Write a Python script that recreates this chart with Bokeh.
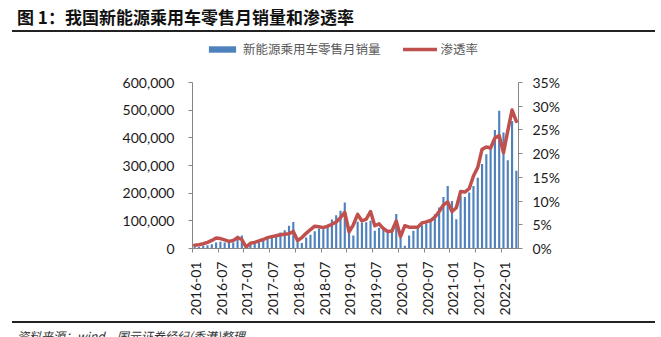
import math
import pandas as pd
from bokeh.plotting import figure
from bokeh.layouts import column
from bokeh.models import (Range1d, LinearAxis, FixedTicker, NumeralTickFormatter,
                          PrintfTickFormatter, Legend, LegendItem, Div)
from bokeh.embed import file_html
from bokeh.resources import INLINE

# ---------------- data ----------------
months = [d.strftime("%Y-%m") for d in pd.date_range("2016-01-01", "2022-04-01", freq="MS")]

sales_2016 = [6000, 5000, 10000, 12000, 15000, 22000, 24000, 22000, 24000, 22000, 46000, 47000]
sales_2017 = [4000, 13000, 20000, 23000, 28000, 35000, 40000, 46000, 58000, 66000, 82000, 96000]
sales_2018 = [28000, 20000, 40000, 50000, 62000, 72000, 70000, 80000, 105000, 120000, 136000, 166000]
sales_2019 = [80000, 47000, 97000, 92000, 95000, 100000, 64000, 75000, 72000, 62000, 70000, 125000]
sales_2020 = [40000, 10000, 47000, 64000, 76000, 84000, 90000, 103000, 124000, 148000, 186000, 226000]
sales_2021 = [172000, 106000, 190000, 186000, 202000, 226000, 256000, 305000, 341000, 365000, 428000, 498000]
sales_2022 = [419000, 319000, 461000, 281000]
sales = sales_2016 + sales_2017 + sales_2018 + sales_2019 + sales_2020 + sales_2021 + sales_2022

pen_2016 = [0.7, 0.8, 1.0, 1.3, 1.7, 2.2, 2.1, 1.8, 1.5, 1.7, 2.3, 1.9]
pen_2017 = [0.3, 1.1, 1.3, 1.6, 1.9, 2.3, 2.5, 2.7, 2.9, 3.0, 3.1, 3.6]
pen_2018 = [1.7, 2.3, 3.2, 4.0, 4.7, 4.6, 4.4, 4.7, 5.1, 5.6, 6.5, 7.6]
pen_2019 = [3.5, 5.0, 7.2, 5.8, 6.2, 7.8, 4.8, 5.2, 4.2, 3.6, 3.7, 5.8]
pen_2020 = [2.5, 4.8, 4.5, 4.5, 4.5, 5.4, 5.6, 5.9, 6.6, 7.8, 9.2, 9.8]
pen_2021 = [7.8, 8.6, 12.0, 11.9, 12.6, 15.3, 17.1, 20.9, 21.4, 21.2, 23.3, 23.8]
pen_2022 = [20.2, 24.8, 29.2, 26.8]
pen = pen_2016 + pen_2017 + pen_2018 + pen_2019 + pen_2020 + pen_2021 + pen_2022

tick_labels = ["2016-01", "2016-07", "2017-01", "2017-07", "2018-01", "2018-07", "2019-01",
               "2019-07", "2020-01", "2020-07", "2021-01", "2021-07", "2022-01"]
left_ticks = [0, 100000, 200000, 300000, 400000, 500000, 600000]
right_ticks = [0, 5, 10, 15, 20, 25, 30, 35]
left_max = 600000
right_max = 35

title_text = "图 1：我国新能源乘用车零售月销量和渗透率"
source_text = "资料来源：wind，国元证券经纪(香港)整理"
bar_name = "新能源乘用车零售月销量"
line_name = "渗透率"

W = 661
HEAD_H = 40          # header strip (title + rule)
FOOT_H = 16          # footer strip (rule + source)
CHART_H = 337 - HEAD_H - FOOT_H
FRAME_TOP, FRAME_BOTTOM = 82, 248     # canvas px where the axes span
FL = 192

# ---------------- header (HTML) ----------------
head = Div(width=W, height=HEAD_H, margin=0, text=(
    f'<div style="position:relative;width:{W}px;height:{HEAD_H}px;overflow:hidden;background:#fff;">'
    f'<div style="position:absolute;left:17px;top:5px;white-space:nowrap;'
    f'font-family:\'Noto Sans CJK SC\';font-weight:bold;font-size:17px;line-height:23px;color:#111;">'
    f'{title_text}</div>'
    f'<div style="position:absolute;left:12px;top:30px;width:643px;height:2px;background:#222;"></div>'
    f'</div>'))

# ---------------- chart ----------------
n = len(months)
xs = [i + 0.5 for i in range(n)]
frame_h = FRAME_BOTTOM - HEAD_H
axis_h = FRAME_BOTTOM - FRAME_TOP
y_top = left_max * frame_h / axis_h
pct_top = right_max * frame_h / axis_h

p = figure(width=W, height=CHART_H, output_backend="svg", toolbar_location=None,
           x_range=Range1d(0, n), y_range=Range1d(0, y_top),
           min_border_left=FL, min_border_right=W - 518, min_border_top=0,
           min_border_bottom=CHART_H - frame_h, margin=0)
p.outline_line_color = None
p.grid.visible = False
p.background_fill_color = "white"
p.border_fill_color = "white"
p.extra_y_ranges = {"pct": Range1d(0, pct_top)}

bars = p.vbar(x=xs, top=sales, width=0.5, fill_color="#4F81BD", line_color=None)
line = p.line(xs, pen, y_range_name="pct", line_color="#C0504D", line_width=3.5,
              line_join="round", line_cap="round")

axis_color = "#868686"
label_font = "Lato"
label_color = "#1a1a1a"

ya = p.yaxis[0]
ya.ticker = FixedTicker(ticks=left_ticks)
ya.bounds = (0, left_max)
ya.formatter = NumeralTickFormatter(format="0,0")
ya.axis_line_color = axis_color
ya.major_tick_line_color = axis_color
ya.major_tick_out = 4
ya.major_tick_in = 0
ya.minor_tick_line_color = None
ya.major_label_text_font = label_font
ya.major_label_text_font_size = "14px"
ya.major_label_text_color = label_color
ya.major_label_standoff = 14

ra = LinearAxis(y_range_name="pct", ticker=FixedTicker(ticks=right_ticks),
                formatter=PrintfTickFormatter(format="%d%%"), bounds=(0, right_max))
ra.axis_line_color = axis_color
ra.major_tick_line_color = axis_color
ra.major_tick_out = 4
ra.major_tick_in = 0
ra.minor_tick_line_color = None
ra.major_label_text_font = label_font
ra.major_label_text_font_size = "14px"
ra.major_label_text_color = label_color
ra.major_label_standoff = 10
p.add_layout(ra, "right")

xa = p.xaxis[0]
label_pos = [6 * k + 0.8 for k in range(len(tick_labels))]
mark_pos = [6 * k for k in range(len(tick_labels))]
xa.ticker = FixedTicker(ticks=label_pos, minor_ticks=mark_pos)
xa.major_label_overrides = {pos: lab for pos, lab in zip(label_pos, tick_labels)}
xa.axis_line_color = axis_color
xa.major_tick_line_color = None
xa.major_tick_out = 0
xa.major_tick_in = 0
xa.minor_tick_line_color = axis_color
xa.minor_tick_out = 4
xa.minor_tick_in = 0
xa.major_label_orientation = math.pi / 2
xa.major_label_text_font = label_font
xa.major_label_text_font_size = "14px"
xa.major_label_text_color = label_color
xa.major_label_standoff = 9

legend = Legend(items=[LegendItem(label=bar_name, renderers=[bars]),
                       LegendItem(label=line_name, renderers=[line])],
                orientation="horizontal", location=(205 - FL, FRAME_BOTTOM - 58),
                padding=0, margin=0, spacing=22, label_standoff=4,
                glyph_width=34, glyph_height=8, label_height=12,
                border_line_color=None, background_fill_alpha=0,
                label_text_font="Noto Sans CJK SC", label_text_font_size="12.5px",
                label_text_color="#595959")
p.add_layout(legend, "center")

# ---------------- footer (HTML) ----------------
foot = Div(width=W, height=FOOT_H, margin=0, text=(
    f'<div style="position:relative;width:{W}px;height:{FOOT_H}px;overflow:hidden;background:#fff;">'
    f'<div style="position:absolute;left:12px;top:0px;width:643px;height:2px;background:#222;"></div>'
    f'<div style="position:absolute;left:17px;top:8px;white-space:nowrap;'
    f'font-family:\'Noto Sans CJK SC\';font-style:italic;font-size:12px;line-height:14px;color:#333;">'
    f'{source_text}</div>'
    f'</div>'))

layout = column(head, p, foot, spacing=0)
open("out.html", "w").write(file_html(layout, INLINE))
